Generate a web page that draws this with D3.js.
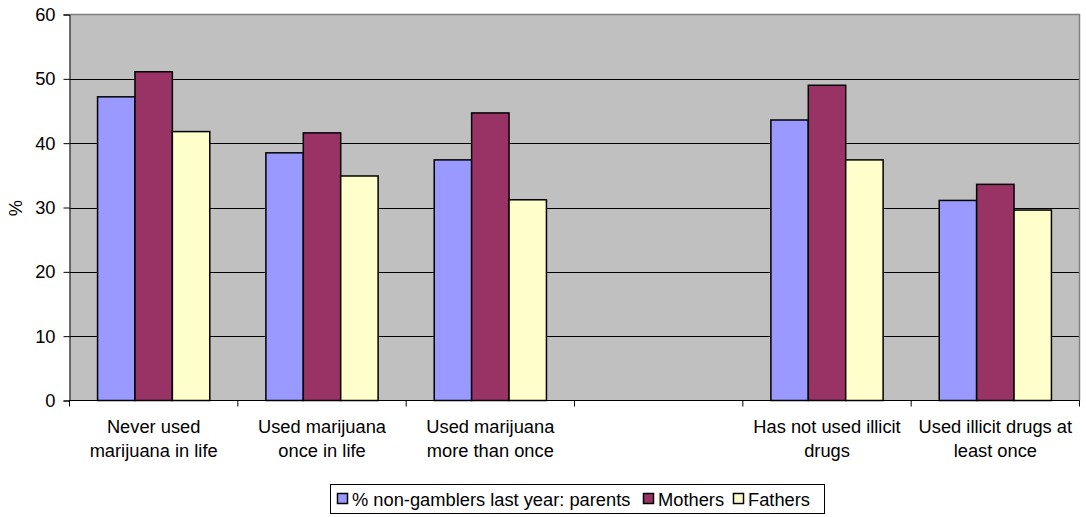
<!DOCTYPE html>
<html><head><meta charset="utf-8">
<script src="https://cdn.jsdelivr.net/npm/d3@7"></script>
<style>body{margin:0;background:#fff;} text{font-family:Arial,"Liberation Sans",sans-serif;}</style>
</head><body><svg id="c" width="1086" height="517"></svg>
<script>
const categories = [
  ["Never used", "marijuana in life"],
  ["Used marijuana", "once in life"],
  ["Used marijuana", "more than once"],
  [""],
  ["Has not used illicit", "drugs"],
  ["Used illicit drugs at", "least once"]
];
const seriesNames = ["% non-gamblers last year: parents", "Mothers", "Fathers"];
const parents = [47.2, 38.5, 37.4, null, 43.6, 31.1];
const mothers = [51.1, 41.6, 44.7, null, 49.0, 33.6];
const fathers = [41.8, 34.9, 31.2, null, 37.4, 29.6];
const yTicks = [0, 10, 20, 30, 40, 50, 60];
const colors = ["#9999FF", "#993366", "#FFFFCC"];

const FS = 18.3;
const svg = d3.select("#c");
const L = 69.5, R = 1079.5, T = 14.5, B = 400.5;
const x = d3.scaleBand().domain(d3.range(categories.length)).range([L, R]).paddingInner(0).paddingOuter(0);
const y = d3.scaleLinear().domain([0, 60]).range([B, T]);
const bw = x.bandwidth() / 4.5;
const xs = d3.scaleBand().domain([0,1,2]).range([0.75*bw, 3.75*bw]);

svg.append("rect").attr("x", L).attr("y", T).attr("width", R-L).attr("height", B-T).attr("fill", "#C0C0C0");
svg.append("g").selectAll("line").data(yTicks.filter(d => d > 0 && d < 60)).join("line")
  .attr("x1", L).attr("x2", R).attr("y1", d => Math.round(y(d))+0.5).attr("y2", d => Math.round(y(d))+0.5)
  .attr("stroke", "#000").attr("stroke-width", 1);
svg.append("path").attr("d", `M${L},${T}H${R}V${B}`).attr("fill","none").attr("stroke","#808080").attr("stroke-width",1.5);

const data = [parents, mothers, fathers];
categories.forEach((c, i) => {
  data.forEach((s, j) => {
    if (s[i] == null) return;
    svg.append("rect")
      .attr("x", x(i) + xs(j)).attr("y", y(s[i]))
      .attr("width", xs.bandwidth()).attr("height", y(0) - y(s[i]))
      .attr("fill", colors[j]).attr("stroke", "#000").attr("stroke-width", 1.5);
  });
});

const ya = svg.append("g").attr("transform", `translate(${L},0)`)
  .call(d3.axisLeft(y).tickValues(yTicks).tickSize(6).tickPadding(8));
ya.select(".domain").attr("stroke", "#000");
ya.selectAll("text").attr("font-size", FS).attr("fill", "#000").attr("font-family", "Arial, 'Liberation Sans', sans-serif");
const xa = svg.append("g").attr("transform", `translate(0,${B})`);
xa.append("line").attr("x1", L).attr("x2", R).attr("y1", 0).attr("y2", 0).attr("stroke", "#000");
xa.selectAll("line.t").data(d3.range(categories.length + 1)).join("line").attr("class","t")
  .attr("x1", d => L + d * x.bandwidth()).attr("x2", d => L + d * x.bandwidth())
  .attr("y1", 0).attr("y2", 6).attr("stroke", "#000");
categories.forEach((c, i) => {
  const t = xa.append("text").attr("text-anchor", "middle").attr("font-size", FS).attr("fill", "#000")
    .attr("x", x(i) + x.bandwidth()/2).attr("y", 32.5);
  c.forEach((ln, k) => t.append("tspan").attr("x", x(i) + x.bandwidth()/2).attr("dy", k === 0 ? 0 : 23.5).text(ln));
});

svg.append("text").attr("transform", "translate(22,208) rotate(-90)").attr("text-anchor","middle")
  .attr("font-size", FS).attr("fill","#000").text("%");

const lg = svg.append("g");
lg.append("rect").attr("x", 330.5).attr("y", 484.5).attr("width", 494).attr("height", 29).attr("fill","#fff").attr("stroke","#000");
const lx = [337, 643, 733];
seriesNames.forEach((n, j) => {
  lg.append("rect").attr("x", lx[j]+0.5).attr("y", 493.5).attr("width", 10).attr("height", 10)
    .attr("fill", colors[j]).attr("stroke","#000").attr("stroke-width",1.5);
  lg.append("text").attr("x", lx[j] + 15).attr("y", 505.5).attr("font-size", FS).attr("fill","#000").text(n);
});
</script></body></html>
